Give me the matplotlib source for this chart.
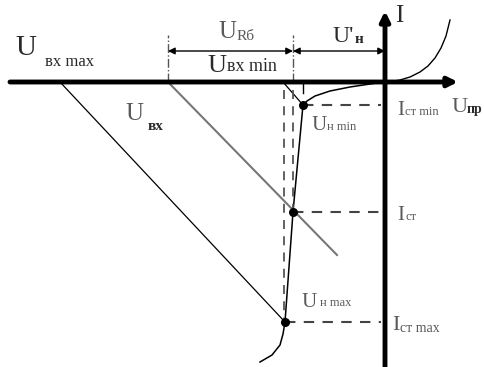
import matplotlib
matplotlib.use("Agg")
import matplotlib.pyplot as plt

# coordinates: origin at crossing of the axes, U to the right, I up
# forward branch of the diode
fwd_u = [0, 5, 15, 25, 35, 43, 50, 56, 61, 65]
fwd_i = [0, 0.3, 2, 5, 10, 16, 24, 34, 46, 62]
# reverse branch (breakdown)
rev_u = [0, -15, -35, -55, -70, -78, -82, -92, -100, -102, -105, -113, -125]
rev_i = [0, -2, -5, -9, -14, -19, -23, -130, -240, -252, -263, -273, -280]

# operating points: (U, I)
pt_u = [-82, -92, -100]
pt_i = [-23, -130, -240]

# load lines
load_max_u = [-325, -100]
load_max_i = [0, -240]
load_mid_u = [-217, -48]
load_mid_i = [0, -173]
load_min_u = [-102, -82]
load_min_i = [0, -23]

# dimension marks
ur_left, ur_right = -217, -92
dim_level = 31

plt.rcParams['font.family'] = ['Liberation Serif', 'DejaVu Serif']

fig = plt.figure(figsize=(4.85, 3.67), dpi=100)
ax = fig.add_axes([0, 0, 1, 1])
ax.set_xlim(-385, 100)
ax.set_ylim(-285, 82)
ax.axis('off')

# axes
ax.annotate('', xy=(73, 0), xytext=(-375, 0),
            arrowprops=dict(arrowstyle='-|>', lw=3.5, color='black',
                            mutation_scale=14, shrinkA=0, shrinkB=0))
ax.annotate('', xy=(0, 71), xytext=(0, -290),
            arrowprops=dict(arrowstyle='-|>', lw=3.5, color='black',
                            mutation_scale=14, shrinkA=0, shrinkB=0))

# characteristic
ax.plot(fwd_u, fwd_i, color='black', lw=1.0)
ax.plot(rev_u, rev_i, color='black', lw=1.1)

# load lines
ax.plot(load_max_u, load_max_i, color='black', lw=0.9)
ax.plot(load_mid_u, load_mid_i, color='#777777', lw=1.5)
ax.plot(load_min_u, load_min_i, color='black', lw=0.9)

# dashed projections
for u, i in zip(pt_u, pt_i):
    ax.plot([u, -4], [i, i], color='#444444', lw=1.5, ls=(0, (5, 4)))
ax.plot([-101, -101], [-8, pt_i[2]], color='#555555', lw=1.3, ls=(0, (5, 4)))
ax.plot([-92, -92], [-8, pt_i[1]], color='#555555', lw=1.3, ls=(0, (5, 4)))
ax.plot([-82, -82], [0, -11], color='black', lw=1.0)

ax.scatter(pt_u, pt_i, s=30, color='black', zorder=5)

# dimension lines
ax.plot([ur_left, ur_left], [0, 47], color='#555555', lw=1.0, ls='-.')
ax.plot([ur_right, ur_right], [0, 47], color='#555555', lw=1.0, ls='-.')
ax.annotate('', xy=(ur_left, dim_level), xytext=(ur_right, dim_level),
            arrowprops=dict(arrowstyle='<|-|>', lw=1.0, color='black',
                            mutation_scale=10, shrinkA=0, shrinkB=0))
ax.annotate('', xy=(ur_right, dim_level), xytext=(0, dim_level),
            arrowprops=dict(arrowstyle='<|-|>', lw=1.0, color='black',
                            mutation_scale=10, shrinkA=0, shrinkB=0))

tc = '#2a2a2a'
gc = '#5a5a5a'


def lab(x, y, txt, size, color=tc, **kw):
    ax.text(x, y, txt, fontsize=size, color=color, ha='left', va='baseline', **kw)


lab(-370, 27, 'U', 21)
lab(-340, 16, 'вх max', 12)
lab(-167, 44, 'U', 18, gc)
lab(-148, 42, 'Rб', 11, gc)
lab(-53, 40, "U'", 17)
lab(-30, 39, 'н', 11, weight='bold')
lab(-178, 10, 'U', 19)
lab(-158, 11, 'вх min', 13)
lab(-260, -38, 'U', 18, gc)
lab(-237, -48, 'вх', 11, weight='bold')
lab(-73, -48, 'U', 15, gc)
lab(-58, -48, 'н min', 9, gc)
lab(12, -33, 'I', 15, gc)
lab(20, -33, 'ст min', 9, gc)
lab(67, -30, 'U', 16, gc)
lab(82, -31, 'пр', 10, weight='bold')
lab(12, -138, 'I', 15, gc)
lab(20, -138, 'ст', 9, gc)
lab(-83, -225, 'U', 15, gc)
lab(-65, -224, 'н max', 9, gc)
lab(7, -248, 'I', 16, gc)
lab(15, -250, 'ст max', 10, gc)
lab(10, 60, 'I', 18)

fig.savefig('out.png', dpi=100)
